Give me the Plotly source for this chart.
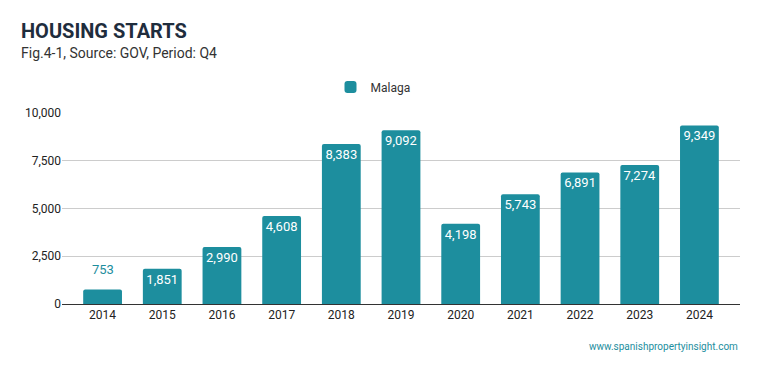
import plotly.graph_objects as go

years = ["2014", "2015", "2016", "2017", "2018", "2019", "2020", "2021", "2022", "2023", "2024"]
malaga = [753, 1851, 2990, 4608, 8383, 9092, 4198, 5743, 6891, 7274, 9349]
y_ticks = [0, 2500, 5000, 7500, 10000]

TEAL = "#1d8e9e"
# page body has an 8px margin; compensate so the plot lands where the reference has it
OFF = 8
PW, PH = 678, 191  # plot area size

small = [v < 1000 for v in malaga]
labels = ["" if s else f"{v:,}" for v, s in zip(malaga, small)]

fig = go.Figure()
fig.add_trace(go.Bar(
    x=years, y=malaga, name="Malaga",
    marker=dict(color=TEAL, cornerradius=2, line=dict(width=0)),
    text=labels,
    textposition="inside",
    insidetextanchor="end",
    textfont=dict(color="white", size=13, family="Roboto"),
    cliponaxis=False,
    showlegend=True,
))

for i, (v, s) in enumerate(zip(malaga, small)):
    if s:
        fig.add_annotation(x=i, y=v, xref="x", yref="y", text=f"{v:,}",
                           showarrow=False, yshift=20,
                           font=dict(size=13, color=TEAL, family="Roboto"))

fig.update_layout(
    width=759 - OFF, height=371 - OFF,
    margin=dict(l=62 - OFF, r=19, t=113 - OFF, b=67),
    paper_bgcolor="white", plot_bgcolor="white",
    font=dict(family="Roboto", color="#333333", size=12),
    bargap=0.35,
    showlegend=True,
    legend=dict(orientation="h", x=0.5 - 28 / PW, xanchor="center",
                y=1 + (113 - 87) / PH, yanchor="middle",
                font=dict(size=12, color="#333333")),
)

fig.update_xaxes(
    type="category", range=[-0.68, 10.68],
    showline=True, linecolor="#333333", linewidth=1,
    ticks="", tickfont=dict(size=12, color="#222222"), showgrid=False,
)
fig.update_yaxes(
    range=[0, 10000], tickvals=y_ticks, tickformat=",",
    showgrid=True, gridcolor="#cccccc", gridwidth=1,
    zeroline=False, showline=False, ticks="",
    tickfont=dict(size=12, color="#222222"),
)

fig.add_annotation(text="<b>HOUSING STARTS</b>", xref="paper", yref="paper",
                   x=-(62 - 19) / PW, y=1 + (113 - 31) / PH, xanchor="left", yanchor="middle",
                   showarrow=False, font=dict(size=20, color="#1f2d3d", family="Roboto"))
fig.add_annotation(text="Fig.4-1, Source: GOV, Period: Q4", xref="paper", yref="paper",
                   x=-(62 - 19) / PW, y=1 + (113 - 53) / PH, xanchor="left", yanchor="middle",
                   showarrow=False, font=dict(size=14, color="#333333", family="Roboto"))
fig.add_annotation(text="www.spanishpropertyinsight.com", xref="paper", yref="paper",
                   x=1, y=-(346 - 304) / PH, xanchor="right", yanchor="middle",
                   showarrow=False, font=dict(size=10, color=TEAL, family="Roboto"))

fig.write_html("out.html")
